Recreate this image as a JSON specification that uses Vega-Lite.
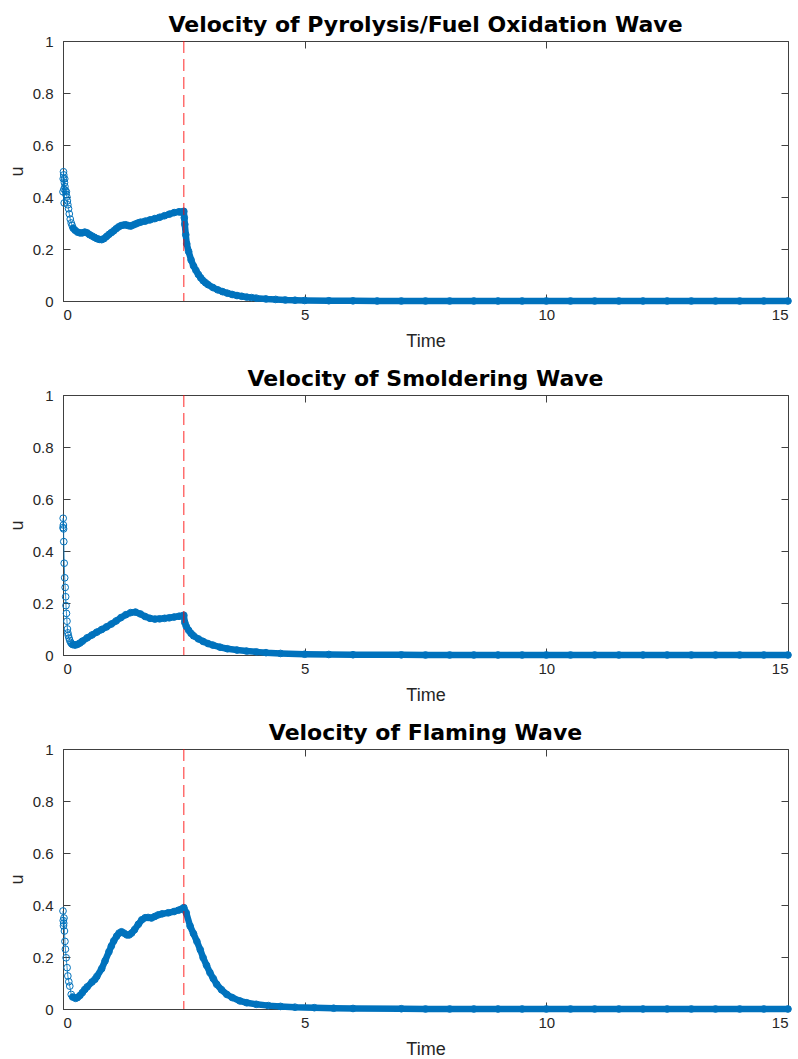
{
  "$schema": "https://vega.github.io/schema/vega-lite/v6.json",
  "background": "white",
  "padding": {"left": 7, "top": 13, "right": 0, "bottom": 0},
  "spacing": 16,
  "datasets": {
    "pyro": [
      {"t": 0.000, "u": 0.420}, {"t": 0.005, "u": 0.470}, {"t": 0.010, "u": 0.497}, {"t": 0.015, "u": 0.485},
      {"t": 0.020, "u": 0.430}, {"t": 0.025, "u": 0.377}, {"t": 0.030, "u": 0.455}, {"t": 0.035, "u": 0.470},
      {"t": 0.040, "u": 0.440}, {"t": 0.050, "u": 0.425}, {"t": 0.060, "u": 0.410}, {"t": 0.070, "u": 0.420},
      {"t": 0.080, "u": 0.400}, {"t": 0.090, "u": 0.385}, {"t": 0.100, "u": 0.370}, {"t": 0.115, "u": 0.355},
      {"t": 0.130, "u": 0.335}, {"t": 0.150, "u": 0.315}, {"t": 0.170, "u": 0.300}, {"t": 0.190, "u": 0.290},
      {"t": 0.21, "u": 0.280}, {"t": 0.25, "u": 0.272}, {"t": 0.30, "u": 0.265}, {"t": 0.35, "u": 0.262},
      {"t": 0.40, "u": 0.262}, {"t": 0.45, "u": 0.265}, {"t": 0.50, "u": 0.262}, {"t": 0.55, "u": 0.255},
      {"t": 0.60, "u": 0.250}, {"t": 0.65, "u": 0.245}, {"t": 0.70, "u": 0.240}, {"t": 0.75, "u": 0.237},
      {"t": 0.80, "u": 0.236}, {"t": 0.85, "u": 0.240}, {"t": 0.90, "u": 0.248}, {"t": 0.95, "u": 0.256},
      {"t": 1.00, "u": 0.263}, {"t": 1.05, "u": 0.270}, {"t": 1.10, "u": 0.278}, {"t": 1.15, "u": 0.285},
      {"t": 1.20, "u": 0.290}, {"t": 1.25, "u": 0.292}, {"t": 1.30, "u": 0.293}, {"t": 1.35, "u": 0.290},
      {"t": 1.40, "u": 0.288}, {"t": 1.45, "u": 0.292}, {"t": 1.50, "u": 0.296}, {"t": 1.55, "u": 0.300},
      {"t": 1.60, "u": 0.303}, {"t": 1.70, "u": 0.307}, {"t": 1.80, "u": 0.312}, {"t": 1.90, "u": 0.317},
      {"t": 2.00, "u": 0.322}, {"t": 2.10, "u": 0.328}, {"t": 2.20, "u": 0.334}, {"t": 2.30, "u": 0.340},
      {"t": 2.40, "u": 0.343}, {"t": 2.45, "u": 0.342}, {"t": 2.50, "u": 0.345}, {"t": 2.51, "u": 0.320},
      {"t": 2.52, "u": 0.295}, {"t": 2.54, "u": 0.255}, {"t": 2.56, "u": 0.220}, {"t": 2.60, "u": 0.190},
      {"t": 2.65, "u": 0.158}, {"t": 2.70, "u": 0.135}, {"t": 2.75, "u": 0.118}, {"t": 2.80, "u": 0.102},
      {"t": 2.85, "u": 0.089}, {"t": 2.90, "u": 0.078}, {"t": 2.95, "u": 0.070}, {"t": 3.00, "u": 0.063},
      {"t": 3.10, "u": 0.052}, {"t": 3.20, "u": 0.043}, {"t": 3.30, "u": 0.036}, {"t": 3.40, "u": 0.030},
      {"t": 3.50, "u": 0.025}, {"t": 3.60, "u": 0.021}, {"t": 3.70, "u": 0.018}, {"t": 3.80, "u": 0.015},
      {"t": 3.90, "u": 0.013}, {"t": 4.00, "u": 0.011}, {"t": 4.20, "u": 0.008}, {"t": 4.40, "u": 0.006},
      {"t": 4.60, "u": 0.004}, {"t": 4.80, "u": 0.003}, {"t": 5.00, "u": 0.002}, {"t": 5.50, "u": 0.001},
      {"t": 6.00, "u": 0.0005}, {"t": 6.5, "u": 0}, {"t": 7.0, "u": 0}, {"t": 7.5, "u": 0},
      {"t": 8.0, "u": 0}, {"t": 8.5, "u": 0}, {"t": 9.0, "u": 0}, {"t": 9.5, "u": 0},
      {"t": 10.0, "u": 0}, {"t": 10.5, "u": 0}, {"t": 11.0, "u": 0}, {"t": 11.5, "u": 0},
      {"t": 12.0, "u": 0}, {"t": 12.5, "u": 0}, {"t": 13.0, "u": 0}, {"t": 13.5, "u": 0},
      {"t": 14.0, "u": 0}, {"t": 14.5, "u": 0}, {"t": 15.0, "u": 0}
    ],
    "smold": [
      {"t": 0.000, "u": 0.490}, {"t": 0.004, "u": 0.526}, {"t": 0.008, "u": 0.500}, {"t": 0.012, "u": 0.485},
      {"t": 0.016, "u": 0.436}, {"t": 0.025, "u": 0.353}, {"t": 0.035, "u": 0.297}, {"t": 0.045, "u": 0.260},
      {"t": 0.055, "u": 0.224}, {"t": 0.062, "u": 0.190}, {"t": 0.072, "u": 0.160}, {"t": 0.082, "u": 0.130},
      {"t": 0.092, "u": 0.100}, {"t": 0.100, "u": 0.085}, {"t": 0.110, "u": 0.075}, {"t": 0.125, "u": 0.065},
      {"t": 0.140, "u": 0.056}, {"t": 0.160, "u": 0.048}, {"t": 0.180, "u": 0.043}, {"t": 0.20, "u": 0.040},
      {"t": 0.25, "u": 0.038}, {"t": 0.30, "u": 0.041}, {"t": 0.35, "u": 0.046}, {"t": 0.40, "u": 0.053},
      {"t": 0.50, "u": 0.066}, {"t": 0.60, "u": 0.077}, {"t": 0.70, "u": 0.088}, {"t": 0.80, "u": 0.098},
      {"t": 0.90, "u": 0.108}, {"t": 1.00, "u": 0.119}, {"t": 1.10, "u": 0.131}, {"t": 1.20, "u": 0.144},
      {"t": 1.30, "u": 0.155}, {"t": 1.40, "u": 0.163}, {"t": 1.50, "u": 0.165}, {"t": 1.60, "u": 0.158},
      {"t": 1.70, "u": 0.148}, {"t": 1.80, "u": 0.141}, {"t": 1.90, "u": 0.138}, {"t": 2.00, "u": 0.139},
      {"t": 2.10, "u": 0.141}, {"t": 2.20, "u": 0.143}, {"t": 2.30, "u": 0.146}, {"t": 2.40, "u": 0.149},
      {"t": 2.50, "u": 0.153}, {"t": 2.52, "u": 0.125}, {"t": 2.55, "u": 0.110}, {"t": 2.60, "u": 0.095},
      {"t": 2.65, "u": 0.083}, {"t": 2.70, "u": 0.074}, {"t": 2.80, "u": 0.062}, {"t": 2.90, "u": 0.052},
      {"t": 3.00, "u": 0.044}, {"t": 3.10, "u": 0.038}, {"t": 3.25, "u": 0.030}, {"t": 3.40, "u": 0.024},
      {"t": 3.60, "u": 0.019}, {"t": 3.80, "u": 0.015}, {"t": 4.00, "u": 0.012}, {"t": 4.20, "u": 0.009},
      {"t": 4.50, "u": 0.006}, {"t": 5.00, "u": 0.003}, {"t": 5.50, "u": 0.002}, {"t": 6.00, "u": 0.001},
      {"t": 7.00, "u": 0.0005}, {"t": 7.5, "u": 0}, {"t": 8.0, "u": 0}, {"t": 8.5, "u": 0},
      {"t": 9.0, "u": 0}, {"t": 9.5, "u": 0}, {"t": 10.0, "u": 0}, {"t": 10.5, "u": 0},
      {"t": 11.0, "u": 0}, {"t": 11.5, "u": 0}, {"t": 12.0, "u": 0}, {"t": 12.5, "u": 0},
      {"t": 13.0, "u": 0}, {"t": 13.5, "u": 0}, {"t": 14.0, "u": 0}, {"t": 14.5, "u": 0},
      {"t": 15.0, "u": 0}
    ],
    "flame": [
      {"t": 0.000, "u": 0.377}, {"t": 0.005, "u": 0.340}, {"t": 0.010, "u": 0.320}, {"t": 0.015, "u": 0.330},
      {"t": 0.020, "u": 0.350}, {"t": 0.030, "u": 0.300}, {"t": 0.040, "u": 0.260}, {"t": 0.050, "u": 0.230},
      {"t": 0.065, "u": 0.197}, {"t": 0.085, "u": 0.159}, {"t": 0.100, "u": 0.127}, {"t": 0.120, "u": 0.105},
      {"t": 0.140, "u": 0.088}, {"t": 0.170, "u": 0.056}, {"t": 0.200, "u": 0.046}, {"t": 0.26, "u": 0.041},
      {"t": 0.30, "u": 0.044}, {"t": 0.35, "u": 0.052}, {"t": 0.40, "u": 0.063}, {"t": 0.45, "u": 0.075},
      {"t": 0.50, "u": 0.085}, {"t": 0.60, "u": 0.104}, {"t": 0.66, "u": 0.114}, {"t": 0.70, "u": 0.125},
      {"t": 0.80, "u": 0.155}, {"t": 0.87, "u": 0.185}, {"t": 0.95, "u": 0.220}, {"t": 1.00, "u": 0.242},
      {"t": 1.05, "u": 0.262}, {"t": 1.11, "u": 0.280}, {"t": 1.16, "u": 0.292}, {"t": 1.21, "u": 0.297},
      {"t": 1.26, "u": 0.292}, {"t": 1.32, "u": 0.285}, {"t": 1.37, "u": 0.285}, {"t": 1.42, "u": 0.292},
      {"t": 1.48, "u": 0.305}, {"t": 1.56, "u": 0.326}, {"t": 1.63, "u": 0.343}, {"t": 1.70, "u": 0.351},
      {"t": 1.76, "u": 0.352}, {"t": 1.83, "u": 0.350}, {"t": 1.90, "u": 0.356}, {"t": 1.97, "u": 0.362},
      {"t": 2.05, "u": 0.366}, {"t": 2.18, "u": 0.370}, {"t": 2.30, "u": 0.375}, {"t": 2.39, "u": 0.380},
      {"t": 2.45, "u": 0.384}, {"t": 2.50, "u": 0.390}, {"t": 2.55, "u": 0.370}, {"t": 2.63, "u": 0.319},
      {"t": 2.70, "u": 0.290}, {"t": 2.77, "u": 0.260}, {"t": 2.84, "u": 0.228}, {"t": 2.90, "u": 0.197},
      {"t": 2.97, "u": 0.168}, {"t": 3.04, "u": 0.140}, {"t": 3.11, "u": 0.117}, {"t": 3.18, "u": 0.095},
      {"t": 3.28, "u": 0.074}, {"t": 3.39, "u": 0.056}, {"t": 3.50, "u": 0.044}, {"t": 3.66, "u": 0.031},
      {"t": 3.80, "u": 0.024}, {"t": 4.00, "u": 0.018}, {"t": 4.25, "u": 0.013}, {"t": 4.50, "u": 0.010},
      {"t": 4.80, "u": 0.007}, {"t": 5.20, "u": 0.005}, {"t": 5.60, "u": 0.003}, {"t": 6.00, "u": 0.002},
      {"t": 7.00, "u": 0.001}, {"t": 7.5, "u": 0}, {"t": 8.0, "u": 0}, {"t": 8.5, "u": 0},
      {"t": 9.0, "u": 0}, {"t": 9.5, "u": 0}, {"t": 10.0, "u": 0}, {"t": 10.5, "u": 0},
      {"t": 11.0, "u": 0}, {"t": 11.5, "u": 0}, {"t": 12.0, "u": 0}, {"t": 12.5, "u": 0},
      {"t": 13.0, "u": 0}, {"t": 13.5, "u": 0}, {"t": 14.0, "u": 0}, {"t": 14.5, "u": 0},
      {"t": 15.0, "u": 0}
    ],
    "switch": [{"t": 2.5}]
  },
  "vconcat": [
    {
      "title": "Velocity of Pyrolysis/Fuel Oxidation Wave",
      "width": 725, "height": 260,
      "data": {"name": "pyro"},
      "layer": [
        {
          "transform": [{"filter": "datum.t >= 0.2"}],
          "mark": {"type": "line", "color": "#0072BD", "strokeWidth": 6.5, "strokeCap": "round", "strokeJoin": "round"},
          "encoding": {
            "x": {"field": "t", "type": "quantitative", "scale": {"domain": [0, 15], "nice": false}, "axis": null},
            "y": {"field": "u", "type": "quantitative", "scale": {"domain": [0, 1], "nice": false}, "axis": null}
          }
        },
        {
          "mark": {"type": "line", "color": "#0072BD", "strokeWidth": 0.8},
          "encoding": {
            "x": {"field": "t", "type": "quantitative", "axis": {"orient": "top", "labels": false, "title": null, "domain": false, "values": [0, 5, 10, 15]}},
            "y": {"field": "u", "type": "quantitative", "axis": {"orient": "right", "labels": false, "title": null, "domain": false, "values": [0, 0.2, 0.4, 0.6, 0.8, 1]}}
          }
        },
        {
          "mark": {"type": "point", "shape": "circle", "filled": false, "color": "#0072BD", "size": 45, "strokeWidth": 1, "opacity": 1},
          "encoding": {
            "x": {"field": "t", "type": "quantitative", "title": "Time", "axis": {"values": [0, 5, 10, 15]}},
            "y": {"field": "u", "type": "quantitative", "title": "u", "axis": {"values": [0, 0.2, 0.4, 0.6, 0.8, 1], "format": ".1~f"}}
          }
        },
        {
          "data": {"name": "switch"},
          "mark": {"type": "rule", "color": "#ff0000", "strokeWidth": 1, "strokeDash": [12, 6], "opacity": 0.85},
          "encoding": {"x": {"field": "t", "type": "quantitative", "axis": null}}
        }
      ],
      "resolve": {"axis": {"x": "independent", "y": "independent"}}
    },
    {
      "title": "Velocity of Smoldering Wave",
      "width": 725, "height": 260,
      "data": {"name": "smold"},
      "layer": [
        {
          "transform": [{"filter": "datum.t >= 0.2"}],
          "mark": {"type": "line", "color": "#0072BD", "strokeWidth": 6.5, "strokeCap": "round", "strokeJoin": "round"},
          "encoding": {
            "x": {"field": "t", "type": "quantitative", "scale": {"domain": [0, 15], "nice": false}, "axis": null},
            "y": {"field": "u", "type": "quantitative", "scale": {"domain": [0, 1], "nice": false}, "axis": null}
          }
        },
        {
          "mark": {"type": "line", "color": "#0072BD", "strokeWidth": 0.8},
          "encoding": {
            "x": {"field": "t", "type": "quantitative", "axis": {"orient": "top", "labels": false, "title": null, "domain": false, "values": [0, 5, 10, 15]}},
            "y": {"field": "u", "type": "quantitative", "axis": {"orient": "right", "labels": false, "title": null, "domain": false, "values": [0, 0.2, 0.4, 0.6, 0.8, 1]}}
          }
        },
        {
          "mark": {"type": "point", "shape": "circle", "filled": false, "color": "#0072BD", "size": 45, "strokeWidth": 1, "opacity": 1},
          "encoding": {
            "x": {"field": "t", "type": "quantitative", "title": "Time", "axis": {"values": [0, 5, 10, 15]}},
            "y": {"field": "u", "type": "quantitative", "title": "u", "axis": {"values": [0, 0.2, 0.4, 0.6, 0.8, 1], "format": ".1~f"}}
          }
        },
        {
          "data": {"name": "switch"},
          "mark": {"type": "rule", "color": "#ff0000", "strokeWidth": 1, "strokeDash": [12, 6], "opacity": 0.85},
          "encoding": {"x": {"field": "t", "type": "quantitative", "axis": null}}
        }
      ],
      "resolve": {"axis": {"x": "independent", "y": "independent"}}
    },
    {
      "title": "Velocity of Flaming Wave",
      "width": 725, "height": 260,
      "data": {"name": "flame"},
      "layer": [
        {
          "transform": [{"filter": "datum.t >= 0.2"}],
          "mark": {"type": "line", "color": "#0072BD", "strokeWidth": 6.5, "strokeCap": "round", "strokeJoin": "round"},
          "encoding": {
            "x": {"field": "t", "type": "quantitative", "scale": {"domain": [0, 15], "nice": false}, "axis": null},
            "y": {"field": "u", "type": "quantitative", "scale": {"domain": [0, 1], "nice": false}, "axis": null}
          }
        },
        {
          "mark": {"type": "line", "color": "#0072BD", "strokeWidth": 0.8},
          "encoding": {
            "x": {"field": "t", "type": "quantitative", "axis": {"orient": "top", "labels": false, "title": null, "domain": false, "values": [0, 5, 10, 15]}},
            "y": {"field": "u", "type": "quantitative", "axis": {"orient": "right", "labels": false, "title": null, "domain": false, "values": [0, 0.2, 0.4, 0.6, 0.8, 1]}}
          }
        },
        {
          "mark": {"type": "point", "shape": "circle", "filled": false, "color": "#0072BD", "size": 45, "strokeWidth": 1, "opacity": 1},
          "encoding": {
            "x": {"field": "t", "type": "quantitative", "title": "Time", "axis": {"values": [0, 5, 10, 15]}},
            "y": {"field": "u", "type": "quantitative", "title": "u", "axis": {"values": [0, 0.2, 0.4, 0.6, 0.8, 1], "format": ".1~f"}}
          }
        },
        {
          "data": {"name": "switch"},
          "mark": {"type": "rule", "color": "#ff0000", "strokeWidth": 1, "strokeDash": [12, 6], "opacity": 0.85},
          "encoding": {"x": {"field": "t", "type": "quantitative", "axis": null}}
        }
      ],
      "resolve": {"axis": {"x": "independent", "y": "independent"}}
    }
  ],
  "config": {
    "font": "Liberation Sans",
    "view": {"stroke": "#404040", "strokeWidth": 1},
    "axis": {
      "domainColor": "#404040", "tickColor": "#404040", "tickSize": -7, "tickWidth": 1,
      "labelFont": "Liberation Sans", "labelFontSize": 15, "labelColor": "#262626",
      "titleFont": "Liberation Sans", "titleFontSize": 18, "titleFontWeight": "normal", "titleColor": "#262626",
      "grid": false
    },
    "axisX": {"labelPadding": 13, "titlePadding": 10},
    "axisY": {"labelPadding": 17, "titlePadding": 6},
    "title": {"font": "DejaVu Sans", "fontSize": 22, "fontWeight": "bold", "color": "#000000", "offset": -3}
  }
}
